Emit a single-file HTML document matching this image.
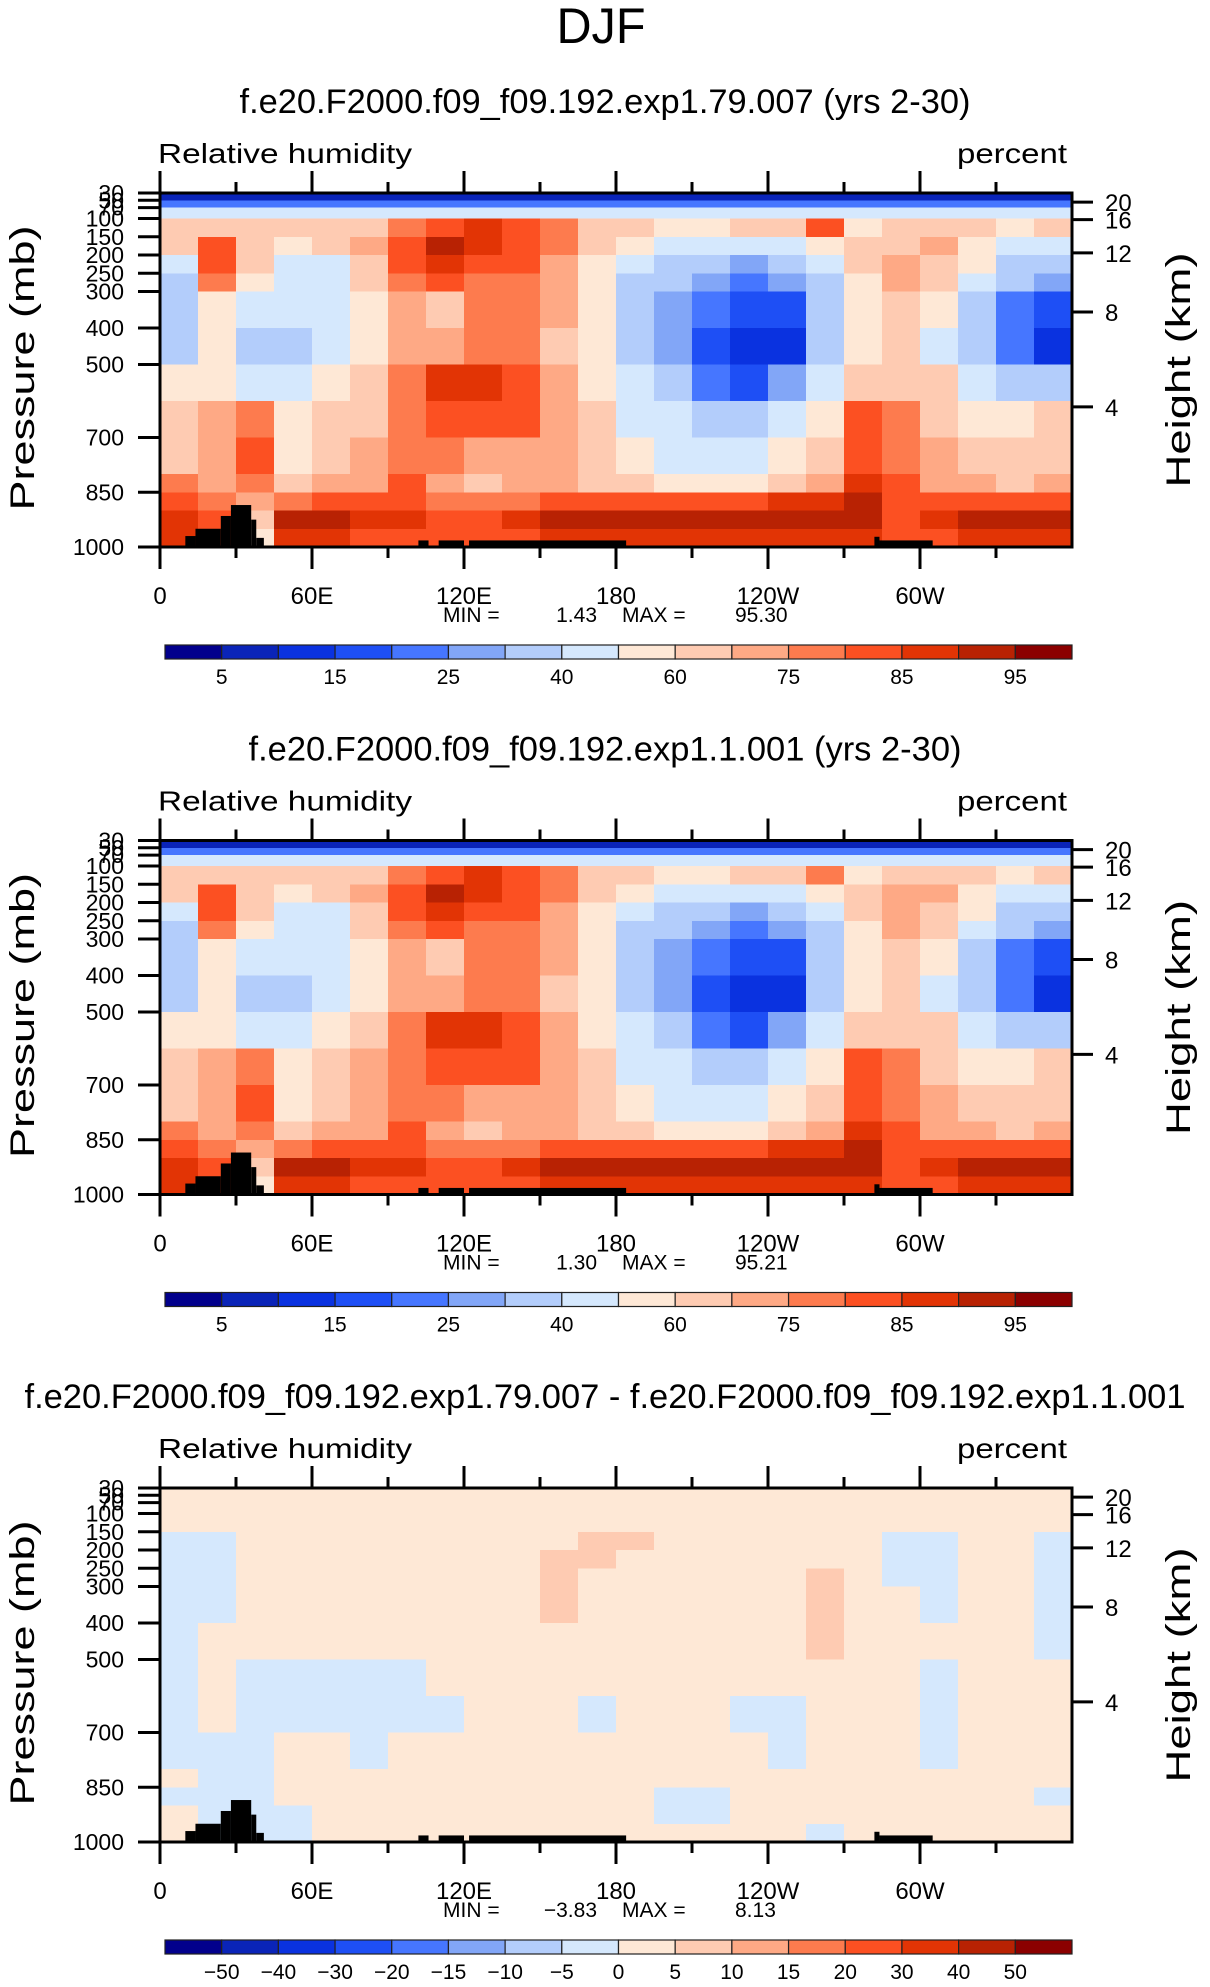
<!DOCTYPE html>
<html><head><meta charset="utf-8">
<style>
html,body{margin:0;padding:0;background:#fff;}
svg{display:block;}
text{font-family:"Liberation Sans",sans-serif;fill:#000;}
</style></head>
<body>
<svg id="fig" width="1210" height="1987" viewBox="0 0 1210 1987" xmlns="http://www.w3.org/2000/svg">
<text x="601" y="43" font-size="50" text-anchor="middle" textLength="89" lengthAdjust="spacingAndGlyphs" style="font-weight:300">DJF</text>
</svg>
<script>
// ---- data ----
const pressureEdges = [30,50,70,100,150,200,250,300,400,500,600,700,800,850,900,950,1000];
const lonCenters = [7.5,22.5,37.5,52.5,67.5,82.5,97.5,112.5,127.5,142.5,157.5,172.5,187.5,202.5,217.5,232.5,247.5,262.5,277.5,292.5,307.5,322.5,337.5,352.5];
const rhLevels = [5,10,15,20,25,30,40,50,60,70,75,80,85,90,95];
const rhTickLabels = ["5","15","25","40","60","75","85","95"];
const diffLevels = [-50,-40,-30,-20,-15,-10,-5,0,5,10,15,20,30,40,50];
const diffTickLabels = ["−50","−40","−30","−20","−15","−10","−5","0","5","10","15","20","30","40","50"];
const xTickLabels = ["0","60E","120E","180","120W","60W"];
const pTickValues = [30,50,70,100,150,200,250,300,400,500,700,850,1000];
const zTickLabels = ["20","16","12","8","4"];
const zTickPressures = [55,103,194,356,616];
const palette = ["#02008c","#0a24b8","#0a32e0","#1e4ff5","#4676ff","#82a6f7","#b3cdfb","#d5e8fd","#fee8d6","#fecbb2","#fea985","#fd7b4e","#fc5022","#e23405","#b82203","#8b0000"];

const rh1 = [
[8,8,8,8,8,8,8,8,8,8,8,8,8,8,8,8,8,8,8,8,8,8,8,8],
[24,24,24,24,24,24,24,24,24,24,24,24,24,24,24,24,24,24,24,24,24,24,24,24],
[45,45,45,45,45,45,45,45,45,45,45,45,45,45,45,45,45,45,45,45,45,45,45,45],
[65,66,62,62,64,68,75,84,86,82,76,68,60,58,58,60,66,80,58,62,64,62,58,66],
[62,82,68,58,62,70,82,90,88,84,75,60,52,45,42,45,48,56,62,66,70,56,45,48],
[48,82,68,48,45,66,80,85,84,82,72,56,42,35,30,28,32,40,60,72,66,50,38,35],
[38,75,55,45,44,62,78,80,78,78,70,55,38,30,25,22,25,35,58,70,62,45,30,28],
[35,55,42,44,45,58,72,68,75,78,70,52,36,28,20,15,18,32,58,64,52,36,20,18],
[30,50,38,32,45,56,70,72,78,78,66,52,38,28,15,10,14,32,58,60,48,35,22,12],
[52,55,48,45,55,64,75,85,85,82,70,56,45,35,22,18,26,45,68,68,60,42,30,35],
[65,70,78,52,64,68,75,82,84,80,70,62,48,42,38,35,40,55,80,76,66,58,52,60],
[68,74,82,55,66,70,75,75,70,74,70,64,52,46,44,46,50,64,84,78,70,64,62,64],
[76,72,76,60,70,70,80,72,68,72,72,68,62,58,56,58,64,74,88,80,72,70,68,70],
[84,75,70,78,82,80,82,78,76,78,80,82,82,82,82,84,85,86,90,80,82,82,82,84],
[88,80,60,92,92,88,86,84,84,86,90,92,92,92,93,92,91,90,90,82,88,90,92,91],
[86,82,55,86,86,84,84,82,82,84,86,88,88,88,88,88,86,86,88,80,84,86,86,86]];

const rh2 = [
[8,8,8,8,8,8,8,8,8,8,8,8,8,8,8,8,8,8,8,8,8,8,8,8],
[24,24,24,24,24,24,24,24,24,24,24,24,24,24,24,24,24,24,24,24,24,24,24,24],
[45,45,45,45,45,45,45,45,45,45,45,45,45,45,45,45,45,45,45,45,45,45,45,45],
[65,66,62,62,64,68,76,84,86,82,78,68,60,58,58,60,66,78,58,62,64,62,58,66],
[62,82,68,56,62,72,84,90,88,84,76,60,50,45,42,45,48,56,62,70,72,56,45,48],
[48,82,68,48,46,68,80,86,84,82,72,55,42,35,30,28,32,40,60,74,66,50,38,35],
[38,75,55,45,44,64,78,80,78,78,70,55,38,30,25,22,25,35,58,70,62,45,30,28],
[35,55,42,44,45,58,72,68,75,78,70,52,36,28,20,15,18,32,58,64,52,36,20,18],
[30,50,38,32,45,56,70,72,78,78,66,52,38,28,15,12,14,32,58,60,48,35,22,12],
[52,55,48,46,56,66,75,85,85,82,70,56,45,35,22,18,26,45,68,68,60,42,30,35],
[65,70,78,53,66,70,76,84,84,80,70,62,48,42,38,35,40,55,80,76,66,58,52,60],
[68,74,82,55,66,72,76,75,72,74,70,64,52,46,44,46,50,64,84,78,70,64,62,64],
[76,72,76,60,70,72,80,74,68,72,72,68,62,58,56,58,64,74,88,80,72,70,68,70],
[84,75,70,78,82,80,82,78,76,78,80,82,82,82,82,84,85,86,90,80,82,82,82,84],
[88,80,60,92,92,88,86,84,84,86,90,92,92,92,92,92,91,90,90,82,88,90,92,91],
[86,82,55,86,86,84,84,82,82,84,86,88,88,88,88,88,86,86,88,80,84,86,86,86]];

const rhDiff = [
[2,2,2,2,2,2,2,2,2,2,2,2,2,2,2,2,2,2,2,2,2,2,2,2],
[2,2,2,2,2,2,2,2,2,2,2,2,2,2,2,2,2,2,2,2,2,2,2,2],
[2,2,2,2,2,2,2,2,2,2,2,2,2,2,2,2,2,2,2,2,2,2,2,2],
[2,2,2,2,2,2,2,2,2,2,2,2,2,2,2,2,2,2,2,2,2,2,2,2],
[-1,-1,2,2,2,2,2,2,2,2,2,6,6,2,2,2,2,2,2,-1,-1,2,2,-1],
[-1,-1,2,2,2,2,2,2,2,2,6,6,2,2,2,2,2,2,2,-1,-1,2,2,-1],
[-1,-1,2,2,2,2,2,2,2,2,6,2,2,2,2,2,2,6,2,-1,-1,2,2,-1],
[-1,-1,2,2,2,2,2,2,2,2,6,2,2,2,2,2,2,6,2,2,-1,2,2,-1],
[-1,2,2,2,2,2,2,2,2,2,2,2,2,2,2,2,2,6,2,2,2,2,2,-1],
[-1,2,-1,-1,-1,-1,-1,2,2,2,2,2,2,2,2,2,2,2,2,2,-1,2,2,2],
[-1,2,-1,-1,-1,-1,-1,-1,2,2,2,-1,2,2,2,-1,-1,2,2,2,-1,2,2,2],
[-1,-1,-1,2,2,-1,2,2,2,2,2,2,2,2,2,2,-1,2,2,2,-1,2,2,2],
[2,-1,-1,2,2,2,2,2,2,2,2,2,2,2,2,2,2,2,2,2,2,2,2,2],
[-1,-1,-1,2,2,2,2,2,2,2,2,2,2,-1,-1,2,2,2,2,2,2,2,2,-1],
[2,-1,-1,-1,2,2,2,2,2,2,2,2,2,-1,-1,2,2,2,2,2,2,2,2,2],
[2,-1,-1,-1,2,2,2,2,2,2,2,2,2,2,2,2,2,-1,2,2,2,2,2,2]];

// topography segments: lon start, lon end, surface pressure
const topoLonStart = [10,14,24,28,36,38,102,110,122,282,284];
const topoLonEnd   = [14,24,28,36,38,41,106,120,184,284,305];
const topoPressure = [970,950,915,885,925,975,982,982,982,972,982];

const panelTitles = ["f.e20.F2000.f09_f09.192.exp1.79.007 (yrs 2-30)","f.e20.F2000.f09_f09.192.exp1.1.001 (yrs 2-30)","f.e20.F2000.f09_f09.192.exp1.79.007 - f.e20.F2000.f09_f09.192.exp1.1.001"];
const titleWidths = [731,713,1161];
const minVals = ["1.43","1.30","−3.83"];
const maxVals = ["95.30","95.21","8.13"];

// ---- drawing ----
const NS = "http://www.w3.org/2000/svg";
const svg = document.getElementById("fig");
const L = 160, R = 1072, TOP0 = 193, H = 354, PITCH = 647.5;
function xScale(lon){ return L + lon/360*(R-L); }
function yScale(p, top){ return top + (p-30)/970*H; }
function colorIndex(v, levels){ let i=0; while(i<levels.length && v>=levels[i]) i++; return i; }
function mk(tag, attrs, parent){ const e=document.createElementNS(NS,tag); for(const k in attrs) e.setAttribute(k, attrs[k]); (parent||svg).appendChild(e); return e; }
function txt(str, attrs, parent){ const e=mk("text", attrs, parent); e.textContent=str; return e; }

const grids = [rh1, rh2, rhDiff];
for(let pi=0; pi<3; pi++){
  const off = pi*PITCH, top = TOP0+off, bot = top+H;
  const g = mk("g", {});
  
  
  const levels = pi===2 ? diffLevels : rhLevels;
  const t = txt(panelTitles[pi], {x:605, y:113+off, "font-size":34, "text-anchor":"middle", textLength:titleWidths[pi], lengthAdjust:"spacingAndGlyphs"}, g);
  
  
  const lt = txt("Relative humidity", {x:158, y:163+off, "font-size":28, textLength:254, lengthAdjust:"spacingAndGlyphs"}, g);
  
  
  const rt = txt("percent", {x:1067, y:163+off, "font-size":28, "text-anchor":"end", textLength:110, lengthAdjust:"spacingAndGlyphs"}, g);
  
  
  // cells
  const grid = grids[pi];
  const cg = mk("g", {"shape-rendering":"crispEdges"}, g);
  
  
  for(let r=0;r<grid.length;r++){
    const y0 = yScale(pressureEdges[r], top), y1 = yScale(pressureEdges[r+1], top);
    for(let c=0;c<lonCenters.length;c++){
      const x0 = xScale(lonCenters[c]-7.5), x1 = xScale(lonCenters[c]+7.5);
      const rc = mk("rect", {x:x0, y:y0, width:x1-x0+0.6, height:y1-y0+0.6, fill:palette[colorIndex(grid[r][c], levels)]}, cg);
      
      
    }
  }
  // topography
  for(let i=0;i<topoLonStart.length;i++){
    const x0 = xScale(topoLonStart[i]), x1 = xScale(topoLonEnd[i]), y0 = yScale(topoPressure[i], top);
    const tr = mk("rect", {x:x0, y:y0, width:x1-x0, height:bot-y0, fill:"#000"}, g);
    
    
  }
  // frame
  const fr = mk("rect", {x:L, y:top, width:R-L, height:H, fill:"none", stroke:"#000", "stroke-width":3}, g);
  
  
  // x ticks
  for(let lon=0; lon<360; lon+=30){
    const x = xScale(lon), major = lon%60===0, len = major?22:11;
    mk("line", {x1:x, y1:bot, x2:x, y2:bot+len, stroke:"#000", "stroke-width":3}, g);
    mk("line", {x1:x, y1:top, x2:x, y2:top-len, stroke:"#000", "stroke-width":3}, g);
  }
  xTickLabels.forEach((s,i)=>{
    const e = txt(s, {x:xScale(i*60), y:604+off, "font-size":24, "text-anchor":"middle"}, g);
    
    
  });
  // pressure ticks
  pTickValues.forEach(p=>{
    const y = yScale(p, top);
    mk("line", {x1:138, y1:y, x2:L, y2:y, stroke:"#000", "stroke-width":3}, g);
    const e = txt(String(p), {x:124, y:y+8, "font-size":23, "text-anchor":"end"}, g);
    
    
  });
  zTickLabels.forEach((s,i)=>{
    const y = yScale(zTickPressures[i], top);
    mk("line", {x1:R, y1:y, x2:1093, y2:y, stroke:"#000", "stroke-width":3}, g);
    const e = txt(s, {x:1105, y:y+9, "font-size":24}, g);
    
    
  });
  const py = txt("Pressure (mb)", {x:0, y:0, "font-size":34, "text-anchor":"middle", textLength:285, lengthAdjust:"spacingAndGlyphs", transform:`translate(34 ${368+off}) rotate(-90)`}, g);
  
  
  const hz = txt("Height (km)", {x:0, y:0, "font-size":34, "text-anchor":"middle", textLength:235, lengthAdjust:"spacingAndGlyphs", transform:`translate(1190 ${370+off}) rotate(-90)`}, g);
  
  
  // min/max
  const m1 = txt("MIN =", {x:443, y:622+off, "font-size":21}, g);
  
  
  const m2 = txt(minVals[pi], {x:597, y:622+off, "font-size":21, "text-anchor":"end"}, g);
  
  
  const m3 = txt("MAX =", {x:622, y:622+off, "font-size":21}, g);
  
  
  const m4 = txt(maxVals[pi], {x:735, y:622+off, "font-size":21}, g);
  
  
  // colorbar
  const cbL = 165, cbW = 907/16, cbT = 645+off, cbH = 14;
  for(let i=0;i<16;i++){
    const b = mk("rect", {x:cbL+i*cbW, y:cbT, width:cbW, height:cbH, fill:palette[i], stroke:"#222", "stroke-width":1.2}, g);
    
    
  }
  if(pi<2){
    rhTickLabels.forEach((s,i)=>{
      const e = txt(s, {x:cbL+(2*i+1)*cbW, y:684+off, "font-size":21, "text-anchor":"middle"}, g);
      
      
    });
  } else {
    diffTickLabels.forEach((s,i)=>{
      const e = txt(s, {x:cbL+(i+1)*cbW, y:684+off, "font-size":21, "text-anchor":"middle"}, g);
      
      
    });
  }
}
</script>
</body></html>
